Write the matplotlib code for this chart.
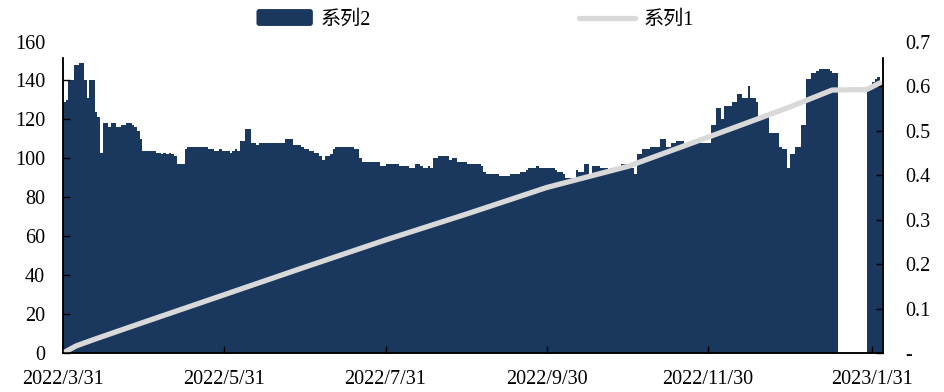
import numpy as np
import pandas as pd
import matplotlib
matplotlib.use('Agg')
import matplotlib.pyplot as plt
from matplotlib.patches import FancyBboxPatch
from matplotlib.legend_handler import HandlerPatch

# 系列2：日度数据（柱），春节期间缺失
bar_dates_1 = pd.date_range('2022-03-31', '2023-01-17')
bar_vals_1 = [
    129, 130, 140, 140, 148, 148, 149, 149, 140, 131,
    140, 140, 124, 121, 103, 118, 118, 116, 118, 118,
    116, 116, 117, 117, 118, 118, 117, 116, 114, 110,
    104, 104, 104, 104, 104, 103, 103, 102, 103, 102,
    103, 102, 101, 97, 97, 97, 105, 106, 106, 106,
    106, 106, 106, 106, 106, 105, 105, 104, 104, 105,
    104, 104, 104, 103, 104, 105, 104, 109, 109, 115,
    115, 108, 108, 107, 108, 108, 108, 108, 108, 108,
    108, 108, 108, 108, 110, 110, 110, 107, 107, 107,
    106, 105, 105, 104, 104, 103, 103, 101, 99, 101,
    101, 102, 105, 106, 106, 106, 106, 106, 106, 106,
    105, 105, 100, 98, 98, 98, 98, 98, 98, 98,
    96, 96, 97, 97, 97, 97, 97, 96, 96, 96,
    96, 95, 95, 97, 97, 96, 95, 95, 96, 95,
    100, 100, 101, 101, 101, 101, 99, 100, 100, 98,
    98, 98, 98, 97, 97, 97, 97, 97, 96, 93,
    92, 92, 92, 92, 92, 91, 91, 91, 91, 92,
    92, 92, 92, 93, 93, 94, 95, 95, 95, 96,
    95, 95, 95, 95, 95, 95, 94, 93, 93, 92,
    90, 90, 90, 90, 94, 93, 93, 97, 97, 92,
    96, 96, 96, 95, 95, 95, 94, 95, 95, 94,
    95, 97, 97, 96, 97, 95, 92, 102, 102, 105,
    105, 105, 106, 106, 106, 106, 110, 110, 106, 106,
    108, 108, 109, 109, 109, 107, 108, 108, 108, 110,
    110, 108, 108, 108, 108, 117, 117, 126, 126, 120,
    127, 127, 127, 129, 129, 133, 133, 131, 131, 137,
    131, 131, 129, 122, 121, 121, 121, 113, 113, 113,
    113, 106, 105, 105, 95, 102, 102, 106, 106, 117,
    117, 141, 141, 144, 144, 145, 146, 146, 146, 146,
    145, 144, 144,
]
bar_dates_2 = pd.date_range('2023-01-29', '2023-02-03')
bar_vals_2 = [135, 137, 139, 141, 142, 139]

# 系列1：累计值（右轴）
line_dates = pd.to_datetime([
    '2022-03-31', '2022-04-05', '2022-04-12', '2022-04-30', '2022-05-31',
    '2022-06-30', '2022-07-31', '2022-08-31', '2022-09-30', '2022-10-31',
    '2022-11-30', '2022-12-16', '2022-12-31', '2023-01-16', '2023-01-29',
    '2023-01-31', '2023-02-03',
])
line_vals = [0.0, 0.016, 0.031, 0.068, 0.131, 0.192, 0.254, 0.313, 0.372,
             0.420, 0.485, 0.520, 0.553, 0.591, 0.592, 0.598, 0.607]

tick_dates = pd.to_datetime(['2022-03-31', '2022-05-31', '2022-07-31',
                             '2022-09-30', '2022-11-30', '2023-01-31'])
tick_labels = ['2022/3/31', '2022/5/31', '2022/7/31',
               '2022/9/30', '2022/11/30', '2023/1/31']

bar_color = '#1a375e'
line_color = '#d9d9d9'
plt.rcParams['font.family'] = ['Liberation Serif', 'Noto Sans CJK SC']
fs = 14.5

fig = plt.figure(figsize=(9.45, 3.92), dpi=100)
ax = fig.add_axes([0.0667, 0.0995, 0.8677, 0.7945])

bars = ax.bar(list(bar_dates_1) + list(bar_dates_2), bar_vals_1 + bar_vals_2,
              width=1.0, align='edge', color=bar_color, linewidth=0,
              antialiased=False, label='系列2')
ax.set_ylim(0, 160)
ax.set_yticks(np.arange(0, 161, 20))
ax.set_xlim(pd.Timestamp('2022-03-31'), pd.Timestamp('2023-02-04 05:00'))
ax.set_xticks(tick_dates)
ax.set_xticklabels(tick_labels)

ax2 = ax.twinx()
ln, = ax2.plot(line_dates, line_vals, color=line_color, linewidth=3.8,
               solid_capstyle='round', solid_joinstyle='round', label='系列1')
ax2.set_ylim(0, 0.7)
ax2.set_yticks(np.arange(0, 0.71, 0.1))
ax2.set_yticklabels(['-'] + ['%.1f' % v for v in np.arange(0.1, 0.71, 0.1)])

for a, top in ((ax, 151.5), (ax2, 0.663)):
    a.spines['top'].set_visible(False)
    a.spines['left'].set_bounds(0, top)
    a.spines['right'].set_bounds(0, top)
    for s in a.spines.values():
        s.set_linewidth(1.1)
    # 顶端刻度超出坐标轴线，不画刻度线
    t = a.yaxis.get_major_ticks()[-1]
    t.tick1line.set_visible(False)
    t.tick2line.set_visible(False)

ax.tick_params(axis='y', direction='in', length=5, width=1, pad=13,
               labelsize=fs)
ax.tick_params(axis='x', direction='in', length=5, width=1, pad=12,
               labelsize=fs)
ax2.tick_params(axis='y', direction='in', length=5, width=1, pad=16,
                labelsize=fs)


def rounded_patch(legend, orig_handle, xdescent, ydescent, width, height,
                  fontsize):
    return FancyBboxPatch((-xdescent + 2, -ydescent + 1), width - 4,
                          height - 2, boxstyle='round,pad=2')


bar_handle = bars.patches[0]
leg = fig.legend([bar_handle, ln], ['系列2', '系列1'], loc='center', ncol=2,
                 bbox_to_anchor=(475 / 945, 1 - 20 / 392), frameon=False,
                 fontsize=fs, handlelength=2.8, handleheight=0.7,
                 columnspacing=10.3, handletextpad=0.4,
                 handler_map={bar_handle: HandlerPatch(patch_func=rounded_patch)})
leg.legend_handles[0].set_antialiased(True)

fig.savefig('out.png', dpi=100)
